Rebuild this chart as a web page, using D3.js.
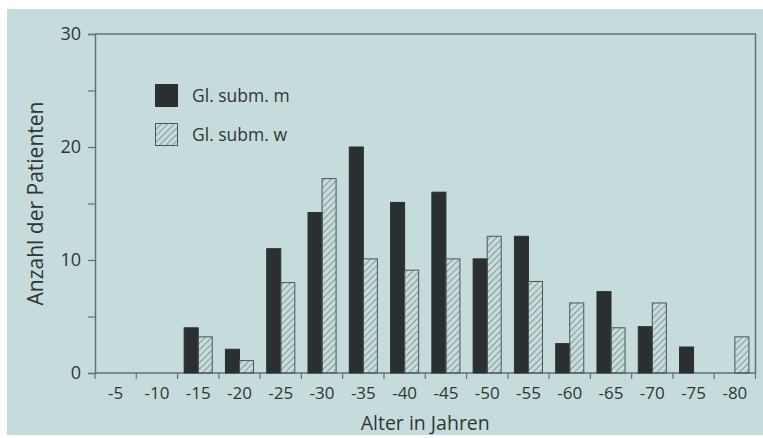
<!DOCTYPE html>
<html>
<head>
<meta charset="utf-8">
<script src="https://cdn.jsdelivr.net/npm/d3@7"></script>
<style>
  html, body { margin: 0; padding: 0; background: #fff; }
  svg { display: block; }
  svg text { font-family: "Open Sans", "Noto Sans", sans-serif; }
</style>
</head>
<body>
<div id="chart"></div>
<script>
// Age groups and patient counts
const categories = ['-5', '-10', '-15', '-20', '-25', '-30', '-35', '-40', '-45', '-50', '-55', '-60', '-65', '-70', '-75', '-80'];
const maleValues = [0, 0, 4.0, 2.1, 11.0, 14.2, 20.0, 15.1, 16.0, 10.1, 12.1, 2.6, 7.2, 4.1, 2.3, 0];
const femaleValues = [0, 0, 3.2, 1.1, 8.0, 17.2, 10.1, 9.1, 10.1, 12.1, 8.1, 6.2, 4.0, 6.2, 0, 3.2];
const seriesNames = ['Gl. subm. m', 'Gl. subm. w'];
const yTicks = [0, 5, 10, 15, 20, 25, 30];

const width = 763;
const height = 438;
const margin = { top: 34, right: 7, bottom: 65, left: 95 };

const svg = d3.select('#chart')
  .append('svg')
  .attr('width', width)
  .attr('height', height);

// pale blue panel behind the chart
svg.append('rect')
  .attr('x', 7).attr('y', 9)
  .attr('width', width - 7).attr('height', height - 12)
  .attr('fill', '#c6dcdc');

const defs = svg.append('defs');
defs.append('pattern')
  .attr('id', 'hatch')
  .attr('patternUnits', 'userSpaceOnUse')
  .attr('width', 4.6).attr('height', 4.6)
  .attr('patternTransform', 'rotate(45)')
  .append('line')
  .attr('x1', 0).attr('y1', 0).attr('x2', 0).attr('y2', 4.6)
  .attr('stroke', '#4a5656')
  .attr('stroke-width', 1);

const x0 = d3.scaleBand()
  .domain(categories)
  .range([margin.left, width - margin.right - 0.5])
  .paddingInner(0.32)
  .paddingOuter(0.16);

const x1 = d3.scaleBand()
  .domain(seriesNames)
  .range([0, x0.bandwidth()]);

const y = d3.scaleLinear()
  .domain([0, 30])
  .range([height - margin.bottom, margin.top]);

const axisColor = '#5e7472';
const textColor = '#2f3636';

// frame top and right
const right = width - margin.right - 0.5;
svg.append('path')
  .attr('d', `M${margin.left},${y(30)}H${right}V${y(0)}`)
  .attr('fill', 'none')
  .attr('stroke', axisColor)
  .attr('stroke-width', 1.5);

// Y axis
const yAxis = svg.append('g')
  .attr('transform', `translate(${margin.left},0)`)
  .call(d3.axisLeft(y).tickValues(yTicks).tickSize(7).tickPadding(7)
    .tickFormat(d => d % 10 === 0 ? d : ''));
yAxis.attr('font-family', null);
yAxis.select('.domain').attr('stroke', axisColor).attr('stroke-width', 1.5);
yAxis.selectAll('.tick line').attr('stroke', axisColor).attr('stroke-width', 1.2);
yAxis.selectAll('.tick text')
  .attr('fill', textColor)
  .style('font-size', '18px');

// X axis: labels under the groups, tick marks between groups
const xAxis = svg.append('g')
  .attr('transform', `translate(0,${y(0)})`)
  .call(d3.axisBottom(x0).tickSize(0).tickPadding(14));
xAxis.attr('font-family', null);
xAxis.select('.domain').remove();
xAxis.selectAll('.tick text')
  .attr('fill', textColor)
  .style('font-size', '17px');

const step = x0.step();
const boundaries = d3.range(categories.length + 1)
  .map(i => x0(categories[0]) - x0.paddingOuter() * step + i * step);

svg.append('line')
  .attr('x1', margin.left).attr('x2', right)
  .attr('y1', y(0)).attr('y2', y(0))
  .attr('stroke', axisColor)
  .attr('stroke-width', 1.5);

svg.append('g')
  .selectAll('line')
  .data(boundaries)
  .join('line')
  .attr('x1', d => d).attr('x2', d => d)
  .attr('y1', y(0)).attr('y2', y(0) + 6)
  .attr('stroke', axisColor)
  .attr('stroke-width', 1.2);

// Bars
const rows = categories.map((c, i) => ({ cat: c, values: [maleValues[i], femaleValues[i]] }));

const groups = svg.append('g')
  .selectAll('g')
  .data(rows)
  .join('g')
  .attr('transform', d => `translate(${x0(d.cat)},0)`);

groups.selectAll('rect')
  .data(d => d.values.map((v, k) => ({ key: seriesNames[k], value: v })).filter(e => e.value > 0))
  .join('rect')
  .attr('x', d => x1(d.key))
  .attr('y', d => y(d.value))
  .attr('width', x1.bandwidth())
  .attr('height', d => y(0) - y(d.value))
  .attr('fill', d => d.key === seriesNames[0] ? '#2a3030' : 'url(#hatch)')
  .attr('stroke', d => d.key === seriesNames[0] ? '#2a3030' : '#4a5656')
  .attr('stroke-width', 1);

// Legend
const legend = svg.append('g')
  .attr('transform', 'translate(155,84)');

seriesNames.forEach((name, i) => {
  const g = legend.append('g').attr('transform', `translate(0,${i * 39})`);
  g.append('rect')
    .attr('x', 0.5).attr('y', 0.5)
    .attr('width', 22).attr('height', 22)
    .attr('fill', i === 0 ? '#2a3030' : 'url(#hatch)')
    .attr('stroke', i === 0 ? '#2a3030' : '#4a5656')
    .attr('stroke-width', 1);
  g.append('text')
    .attr('x', 37).attr('y', 18)
    .attr('fill', textColor)
    .style('font-size', '17.5px')
    .text(name);
});

// Axis titles
svg.append('text')
  .attr('x', (margin.left + right) / 2)
  .attr('y', 430)
  .attr('text-anchor', 'middle')
  .attr('fill', textColor)
  .style('font-size', '19.5px')
  .text('Alter in Jahren');

svg.append('text')
  .attr('transform', `translate(43,${(y(0) + y(30)) / 2}) rotate(-90)`)
  .attr('text-anchor', 'middle')
  .attr('fill', textColor)
  .style('font-size', '21px')
  .text('Anzahl der Patienten');
</script>
</body>
</html>
